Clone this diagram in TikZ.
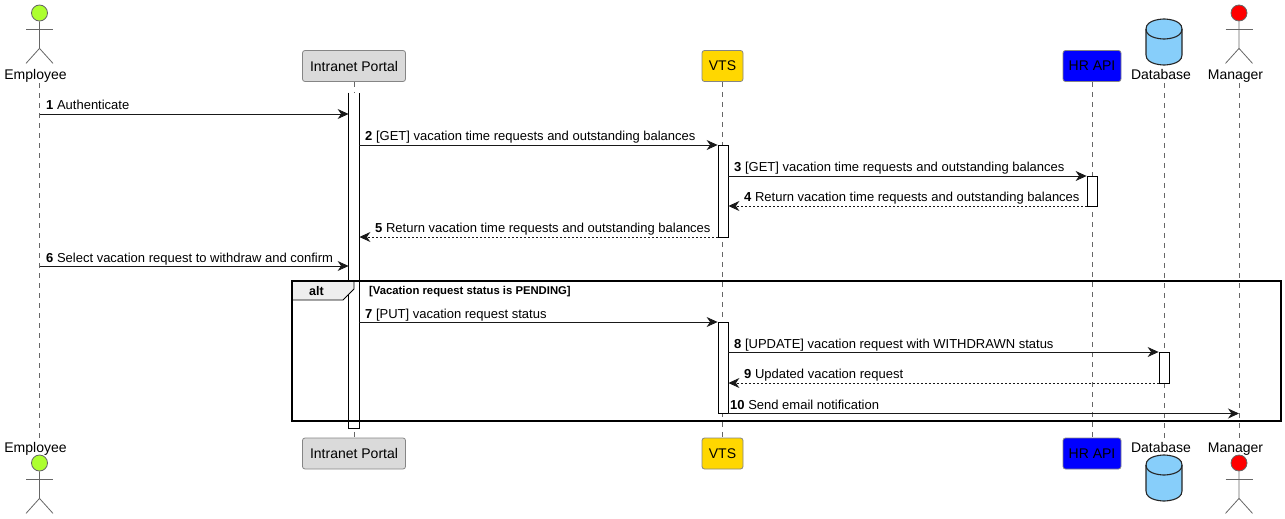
\documentclass[tikz,border=0pt]{standalone}
\usepackage{fontspec}
\setmainfont{Liberation Sans}
\usetikzlibrary{arrows.meta}
\definecolor{lifegray}{HTML}{666666}
\definecolor{boxgray}{HTML}{DADADA}
\definecolor{tabgray}{HTML}{EEEEEE}
\definecolor{limegreen}{HTML}{ADFF2F}
\definecolor{vtsgold}{HTML}{FFD700}
\definecolor{dbblue}{HTML}{87CEFA}
\tikzset{
  lifeline/.style={draw=lifegray, line width=0.8pt, dash pattern=on 5pt off 5pt},
  partbox/.style={draw=lifegray!80, rounded corners=2.5pt, line width=0.8pt, minimum height=31pt, inner sep=0pt, font=\fontsize{14}{16}\selectfont},
  partname/.style={anchor=base, inner sep=0pt, font=\fontsize{14}{16}\selectfont},
  dbcyl/.style={draw=black!85, fill=dbblue, line width=1.1pt},
  activation/.style={draw=black, fill=white, line width=0.8pt, minimum width=10pt, inner sep=0pt},
  msg/.style={draw=black!90, line width=0.9pt, -{Stealth[length=11pt,width=10pt,inset=3.5pt]}},
  reply/.style={msg, dash pattern=on 2pt off 2pt},
  msgtext/.style={anchor=base west, inner sep=0pt, font=\fontsize{13}{15}\selectfont},
  stick/.style={draw=lifegray, line width=0.8pt}
}
\begin{document}
\begin{tikzpicture}[x=1pt,y=-1pt]
\useasboundingbox (0,0) rectangle (1285,519);
% who takes part, top row
\node[partname] (emptop) at (35.5,80) {Employee};
\node[partbox, fill=boxgray, minimum width=103pt] (porttop) at (354,66) {Intranet Portal};
\node[partbox, fill=vtsgold, minimum width=41pt] (vtstop) at (722.5,66) {VTS};
\node[partbox, fill=blue, minimum width=58pt] (hrtop) at (1092,66) {HR API};
\node[partname] (dbtoplabel) at (1161,80) {Database};
\node[partname] (mantop) at (1235.5,80) {Manager};
% and the same again at the bottom
\node[partname] (empbot) at (35.5,452) {Employee};
\node[partbox, fill=boxgray, minimum width=103pt] (portbot) at (354,453.5) {Intranet Portal};
\node[partbox, fill=vtsgold, minimum width=41pt] (vtsbot) at (722.5,453.5) {VTS};
\node[partbox, fill=blue, minimum width=58pt] (hrbot) at (1092,453.5) {HR API};
\node[partname] (dbbotlabel) at (1161,452) {Database};
\node[partname] (manbot) at (1235.5,452) {Manager};
% the two drums
\foreach \y in {19,455} {
  \begin{scope}[shift={(1146,\y)}]
    \draw[dbcyl] (0,10) .. controls (0,0) and (18,0) .. (18,0) .. controls (18,0) and (36,0) .. (36,10)
      -- (36,36) .. controls (36,46) and (18,46) .. (18,46) .. controls (18,46) and (0,46) .. (0,36) -- cycle;
    \draw[dbcyl, fill=none] (0,10) .. controls (0,20) and (18,20) .. (18,20) .. controls (18,20) and (36,20) .. (36,10);
  \end{scope}
}
% stick figures
\foreach \who/\x/\col in {emp/39.5/limegreen, man/1239/red} {
  \foreach \y in {13,463} {
    \node[circle, draw=lifegray, fill=\col, line width=0.8pt, minimum size=16pt, inner sep=0pt] (\who head\y) at (\x,\y) {};
    \draw[stick] (\who head\y.south) -- ++(0,27) -- ++(-13.5,15);
    \draw[stick] (\who head\y.south) ++(0,27) -- ++(13.5,15);
    \draw[stick] (\who head\y.south) ++(-13.5,8) -- ++(27,0);
  }
}
% lifelines
\coordinate (empup) at (39.5,83);
\coordinate (empdown) at (39.5,438);
\coordinate (dbup) at (1164,83);
\coordinate (dbdown) at (1164,438);
\coordinate (manup) at (1239,83);
\coordinate (mandown) at (1239,438);
\draw[lifeline] (empup) -- (empdown);
\draw[lifeline] (porttop) -- (portbot);
\draw[lifeline] (vtstop) -- (vtsbot);
\draw[lifeline] (hrtop) -- (hrbot);
\draw[lifeline] (dbup) -- (dbdown);
\draw[lifeline] (manup) -- (mandown);
% activation bars, the long one is open at the top
\node[activation, draw=none, minimum height=335pt] (portbar) at (354,260.5) {};
\draw[line width=0.8pt] (portbar.north west) -- (portbar.south west) -- (portbar.south east) -- (portbar.north east);
\node[activation, minimum height=92pt] (vtsbarA) at (723,191) {};
\node[activation, minimum height=91pt] (vtsbarB) at (723,367.5) {};
\node[activation, minimum height=30pt] (hrbar) at (1092,191) {};
\node[activation, minimum height=31pt] (dbbar) at (1164,367.5) {};
% rows of the messages
\coordinate (rowA) at (0,114);
\coordinate (rowB) at (0,145);
\coordinate (rowC) at (0,176);
\coordinate (rowD) at (0,206);
\coordinate (rowE) at (0,237);
\coordinate (rowF) at (0,266);
\coordinate (rowG) at (0,322);
\coordinate (rowH) at (0,352);
\coordinate (rowI) at (0,383);
\coordinate (rowJ) at (0,413.5);
\draw[msg] (empup |- rowA) -- (portbar.west |- rowA);
\draw[msg] (portbar.east |- rowB) -- (vtsbarA.west |- rowB);
\draw[msg] (vtsbarA.east |- rowC) -- (hrbar.west |- rowC);
\draw[reply] (hrbar.west |- rowD) -- (vtsbarA.east |- rowD);
\draw[reply] (vtsbarA.west |- rowE) -- (portbar.east |- rowE);
\draw[msg] (empup |- rowF) -- (portbar.west |- rowF);
\draw[msg] (portbar.east |- rowG) -- (vtsbarB.west |- rowG);
\draw[msg] (vtsbarB.east |- rowH) -- (dbbar.west |- rowH);
\draw[reply] (dbbar.west |- rowI) -- (vtsbarB.east |- rowI);
\draw[msg] (vtsbarB.east |- rowJ) -- (manup |- rowJ);
\node[msgtext] (textA) at (46,109.5) {\textbf{1} Authenticate};
\node[msgtext] (textB) at (365,140) {\textbf{2} [GET] vacation time requests and outstanding balances};
\node[msgtext] (textC) at (734,171) {\textbf{3} [GET] vacation time requests and outstanding balances};
\node[msgtext] (textD) at (744,201) {\textbf{4} Return vacation time requests and outstanding balances};
\node[msgtext] (textE) at (375,232) {\textbf{5} Return vacation time requests and outstanding balances};
\node[msgtext] (textF) at (46,262) {\textbf{6} Select vacation request to withdraw and confirm};
\node[msgtext] (textG) at (365,318) {\textbf{7} [PUT] vacation request status};
\node[msgtext] (textH) at (734,348) {\textbf{8} [UPDATE] vacation request with WITHDRAWN status};
\node[msgtext] (textI) at (744,378) {\textbf{9} Updated vacation request};
\node[msgtext] (textJ) at (730,409) {\textbf{10} Send email notification};
% the alt frame goes over the bars
\draw[black, fill=tabgray, line width=0.9pt] (292,281) -- (354,281) -- (354,289) -- (343,300) -- (292,300) -- cycle;
\draw[black, line width=1.8pt] (292,281) rectangle (1281,421);
\node[anchor=base, inner sep=0pt, font=\fontsize{12.5}{14}\selectfont\bfseries] (alttag) at (316.5,295) {alt};
\node[anchor=base west, inner sep=0pt, font=\fontsize{11.3}{13}\selectfont\bfseries] (altguard) at (369,294.5) {[Vacation request status is PENDING]};
\end{tikzpicture}
\end{document}
